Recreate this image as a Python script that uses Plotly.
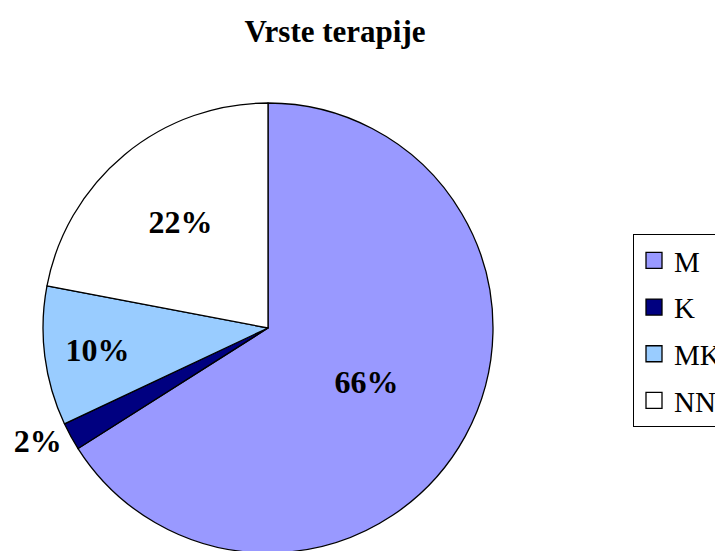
import plotly.graph_objects as go

labels = ["M", "K", "MK", "NN"]
values = [66, 2, 10, 22]
colors = ["#9999FF", "#000080", "#99CCFF", "#FFFFFF"]
text_positions = ["inside", "outside", "inside", "inside"]
title_text = "Vrste terapije"

W, H = 723, 551
OFF = 8  # page body margin
cx, cy, r = 268 - OFF, 328 - OFF, 225
SERIF = "Liberation Serif, Times New Roman, serif"

fig = go.Figure()
fig.add_trace(go.Pie(
    labels=labels, values=values, sort=False, direction="clockwise", rotation=0,
    marker=dict(colors=colors, line=dict(color="black", width=1.3)),
    texttemplate="<b>%{percent:.0%}</b>", textposition=text_positions,
    insidetextorientation="horizontal",
    textfont=dict(family=SERIF, size=32, color="black"),
    outsidetextfont=dict(family=SERIF, size=32, color="black"),
    showlegend=False, hoverinfo="label+percent",
    domain=dict(x=[(cx - r) / W, (cx + r) / W], y=[1 - (cy + r) / H, 1 - (cy - r) / H]),
))
for lab, col in zip(labels, colors):
    fig.add_trace(go.Scatter(
        x=[None], y=[None], mode="markers", name=lab, legendgroup=lab,
        marker=dict(symbol="square", size=16, color=col, line=dict(color="black", width=1.3)),
    ))

fig.update_layout(
    width=W, height=H,
    margin=dict(l=0, r=0, t=0, b=0, autoexpand=False),
    paper_bgcolor="white", plot_bgcolor="white",
    xaxis=dict(visible=False), yaxis=dict(visible=False),
    title=dict(text="<b>" + title_text + "</b>", x=(335 - OFF) / W, xanchor="center",
               y=1 - (31 - OFF) / H, yanchor="middle",
               font=dict(family=SERIF, size=31, color="black")),
    legend=dict(x=(633 - OFF) / W, xanchor="left", y=1 - (234 - OFF) / H, yanchor="top",
                bordercolor="black", borderwidth=1, bgcolor="white",
                font=dict(family=SERIF, size=29, color="black"),
                tracegroupgap=6, itemsizing="trace", itemwidth=30),
    showlegend=True,
)
fig.write_html("out.html")
